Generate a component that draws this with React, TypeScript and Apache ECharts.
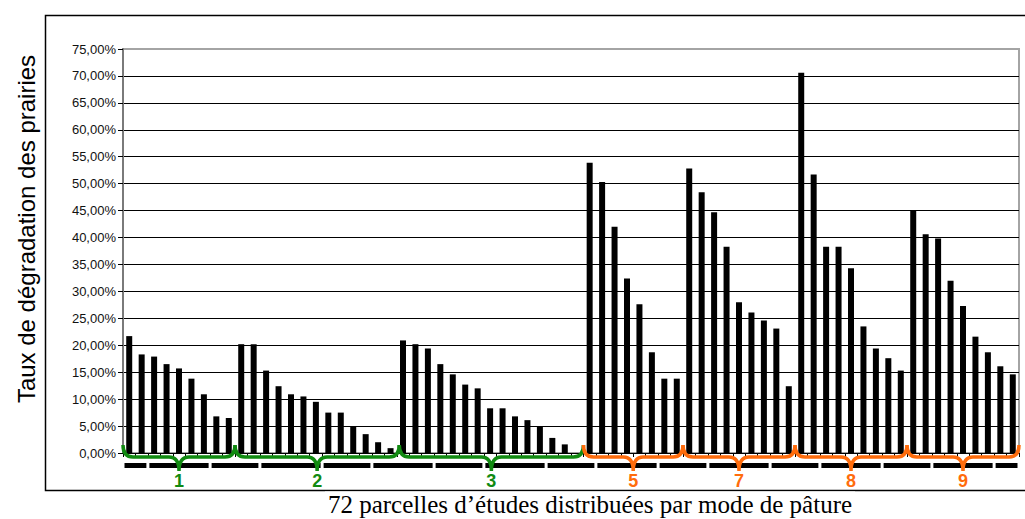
import React, { useEffect, useRef } from "react";
import * as echarts from "echarts";

// ---- data ----
const parcelRates: number[] = [
  // pâture 1
  21.7, 18.3, 17.9, 16.5, 15.7, 13.8, 10.9, 6.8, 6.5,
  // pâture 2
  20.2, 20.2, 15.3, 12.4, 10.9, 10.5, 9.5, 7.5, 7.5, 5.0, 3.5, 2.0, 0.9,
  // pâture 3
  20.9, 20.2, 19.4, 16.5, 14.6, 12.7, 12.0, 8.3, 8.3, 6.8, 6.1, 5.0, 2.8, 1.6, 0,
  // pâture 5
  53.9, 50.3, 42.0, 32.4, 27.6, 18.7, 13.8, 13.8,
  // pâture 7
  52.8, 48.4, 44.7, 38.3, 28.0, 26.1, 24.6, 23.1, 12.4,
  // pâture 8
  70.6, 51.7, 38.3, 38.3, 34.3, 23.5, 19.4, 17.6, 15.3,
  // pâture 9
  45.0, 40.6, 39.8, 32.0, 27.3, 21.6, 18.7, 16.1, 14.6,
];
const parcelNames: string[] = parcelRates.map((_, i) => String(i + 1));

const groupLabels: string[] = ["1", "2", "3", "5", "7", "8", "9"];
const groupStart: number[] = [0, 9, 22.2, 37, 45, 54, 63];
const groupEnd: number[] = [9, 22.2, 37, 45, 54, 63, 72];
const groupKind: string[] = ["A", "A", "A", "B", "B", "B", "B"];

const labelBlockBreaks: number[] = [0, 2, 7, 11, 16, 20, 25, 29, 34, 38, 43, 47, 52, 56, 61, 65, 70, 72];

const yTitle = "Taux de dégradation des prairies";
const xTitle = "72 parcelles d’études distribuées par mode de pâture";

// ---- styles ----
const KIND_COLOR: Record<string, string> = { A: "#118a11", B: "#ff6c0c" };
const SANS = '"Liberation Sans", Arial, sans-serif';
const SERIF = '"Liberation Serif", "Times New Roman", serif';

function boundaryX(api: any, k: number) {
  const origin = api.coord([0, 0]);
  const bw = api.size([1, 0])[0];
  return origin[0] - bw / 2 + k * bw;
}

export default function App() {
  const ref = useRef<HTMLDivElement>(null);
  useEffect(() => {
    if (!ref.current) return;
    const chart = echarts.init(ref.current, null, { renderer: "svg" });
    const option: any = {
      animation: false,
      backgroundColor: "#fff",
      grid: {
        left: 123,
        right: 6,
        top: 49,
        bottom: 66,
        containLabel: false,
        outerBoundsMode: "none",
        show: true,
        borderColor: "#a4a4a4",
        borderWidth: 2,
        backgroundColor: "transparent",
      },
      xAxis: {
        type: "category",
        data: parcelNames,
        axisLine: { show: true, lineStyle: { color: "#000", width: 1 } },
        axisTick: { show: true, interval: 0, length: 4, lineStyle: { color: "#000" } },
        axisLabel: { show: false },
        splitLine: { show: false },
      },
      yAxis: {
        type: "value",
        min: 0,
        max: 75,
        interval: 5,
        axisLine: { show: true, lineStyle: { color: "#7a7a7a", width: 2 } },
        axisTick: { show: true, length: 5, lineStyle: { color: "#000" } },
        axisLabel: {
          margin: 7,
          color: "#111",
          fontFamily: SANS,
          fontSize: 13,
          formatter: (v: number) => v.toFixed(2).replace(".", ",") + "%",
        },
        splitLine: { show: true, showMaxLine: false, lineStyle: { color: "#000", width: 1 } },
      },
      series: [
        {
          type: "bar",
          data: parcelRates,
          barWidth: 6,
          itemStyle: { color: "#000" },
          z: 3,
        },
        {
          type: "custom",
          coordinateSystem: "cartesian2d",
          clip: false,
          z: 4,
          data: labelBlockBreaks.slice(0, -1).map((_, i) => [0, 0, i]),
          encode: { x: 0, y: 1 },
          renderItem: (params: any, api: any) => {
            const i = params.dataIndex;
            const y0 = api.coord([0, 0])[1];
            const xa = boundaryX(api, labelBlockBreaks[i]) + 1.5;
            const xb = boundaryX(api, labelBlockBreaks[i + 1]) - 1.5;
            return {
              type: "rect",
              shape: { x: xa, y: y0 + 10, width: xb - xa, height: 5 },
              style: { fill: "#000" },
            };
          },
        },
        {
          type: "custom",
          coordinateSystem: "cartesian2d",
          clip: false,
          z: 5,
          data: groupLabels.map((_, i) => [0, 0, i]),
          encode: { x: 0, y: 1 },
          renderItem: (params: any, api: any) => {
            const i = params.dataIndex;
            const color = KIND_COLOR[groupKind[i]];
            const y0 = api.coord([0, 0])[1];
            const x0 = boundaryX(api, groupStart[i]);
            const x1 = boundaryX(api, groupEnd[i]);
            const xm = (x0 + x1) / 2;
            const yb = y0 + 4;
            const yt = y0 - 8;
            const yp = y0 + 18;
            const r = 10;
            const d =
              `M${x0},${yt} Q${x0},${yb} ${x0 + r},${yb} L${xm - r},${yb} ` +
              `Q${xm},${yb} ${xm},${yp} Q${xm},${yb} ${xm + r},${yb} ` +
              `L${x1 - r},${yb} Q${x1},${yb} ${x1},${yt}`;
            return {
              type: "group",
              children: [
                {
                  type: "path",
                  shape: { pathData: d },
                  style: { fill: "none", stroke: color, lineWidth: 3.5 },
                },
                {
                  type: "text",
                  x: xm,
                  y: y0 + 28,
                  style: {
                    text: groupLabels[i],
                    fill: color,
                    font: `bold 18px ${SANS}`,
                    align: "center",
                    verticalAlign: "middle",
                  },
                },
              ],
            };
          },
        },
      ],
      graphic: [
        {
          type: "rect",
          silent: true,
          z: 0,
          shape: { x: 45.5, y: 15.5, width: 1010, height: 475 },
          style: { fill: "none", stroke: "#000", lineWidth: 1.5 },
        },
        {
          type: "text",
          silent: true,
          z: 10,
          x: 590,
          y: 504,
          style: {
            text: xTitle,
            font: `25px ${SERIF}`,
            fill: "#000",
            align: "center",
            verticalAlign: "middle",
            backgroundColor: "#fff",
            padding: [0, 3],
          },
        },
        {
          type: "text",
          silent: true,
          z: 10,
          x: 26,
          y: 229,
          rotation: Math.PI / 2,
          style: {
            text: yTitle,
            font: `24px ${SANS}`,
            fill: "#000",
            align: "center",
            verticalAlign: "middle",
          },
        },
      ],
    };
    chart.setOption(option);
    return () => chart.dispose();
  }, []);
  return (
    <div
      ref={ref}
      style={{ position: "absolute", left: 0, top: 0, width: 1025, height: 519, background: "#fff" }}
    />
  );
}
